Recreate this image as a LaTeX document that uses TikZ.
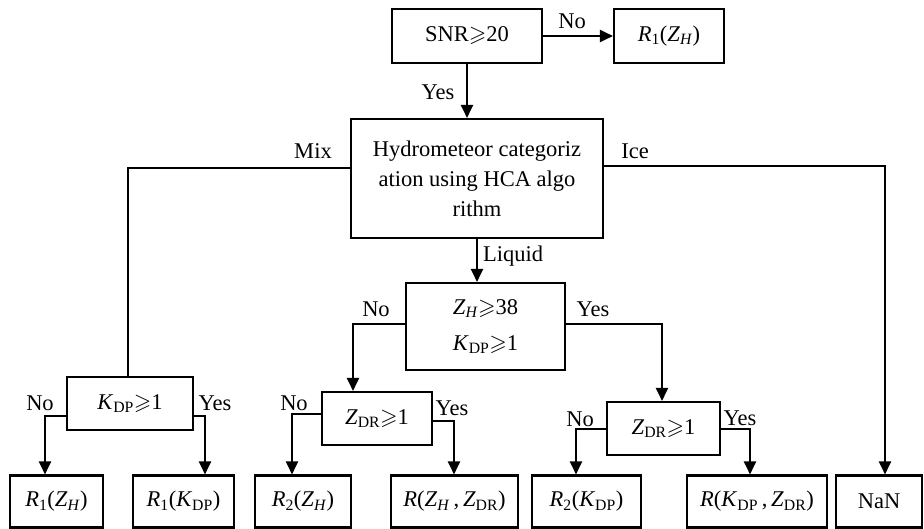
\documentclass[tikz,border=0pt]{standalone}
\usepackage{amssymb}
\usepackage{fontspec}
\setmainfont{Liberation Serif}
\usetikzlibrary{arrows.meta,calc}
\newcommand{\mygeq}{\ensuremath{\geqslant}}
\newcommand{\ZH}{\textit{Z}\textsubscript{\textit{H}}}
\newcommand{\KDP}{\textit{K}\textsubscript{DP}}
\newcommand{\ZDR}{\textit{Z}\textsubscript{DR}}
\newcommand{\Ri}{\textit{R}\textsubscript{1}}
\newcommand{\Rii}{\textit{R}\textsubscript{2}}
\begin{document}
\begin{tikzpicture}[x=1pt,y=-1pt,
  every node/.style={font=\fontsize{22.5}{30}\selectfont},
  box/.style={draw,line width=2.1pt,inner sep=0pt,align=center},
  conn/.style={line width=2.1pt},
  arr/.style={conn,-{Triangle[length=13pt,width=12pt]}},
  lbl/.style={inner sep=0pt}]
\useasboundingbox (0,0) rectangle (924,528);
% boxes
\node[box,minimum width=150pt,minimum height=54pt] (snr) at (467,36) {SNR\mygeq20};
\node[box,minimum width=110pt,minimum height=54pt] (rtop) at (669,36) {\Ri(\ZH)};
\node[box,minimum width=252pt,minimum height=119pt] (hca) at (477,178.5)
  {Hydrometeor categoriz\\ation using HCA algo\\rithm};
\node[box,minimum width=159pt,minimum height=87pt,font=\fontsize{22.5}{36}\selectfont] (zh) at (485.5,326.5)
  {\ZH\mygeq38\\\KDP\mygeq1};
\node[box,minimum width=126pt,minimum height=53pt] (kdp) at (130,403.5) {\KDP\mygeq1};
\node[box,minimum width=110pt,minimum height=53pt] (zdra) at (377,418.5) {\ZDR\mygeq1};
\node[box,minimum width=113pt,minimum height=53pt] (zdrb) at (663.5,428.5) {\ZDR\mygeq1};
\node[box,minimum width=93pt,minimum height=52pt] (b1) at (56.5,501.5) {\Ri(\ZH)};
\node[box,minimum width=101pt,minimum height=52pt] (b2) at (183.5,501.5) {\Ri(\KDP)};
\node[box,minimum width=96pt,minimum height=52pt] (b3) at (303,501.5) {\Rii(\ZH)};
\node[box,minimum width=127pt,minimum height=52pt] (b4) at (454.5,501.5) {\textit{R}(\ZH\,,\,\ZDR)};
\node[box,minimum width=109pt,minimum height=52pt] (b5) at (586.5,501.5) {\Rii(\KDP)};
\node[box,minimum width=140pt,minimum height=52pt] (b6) at (757,501.5) {\textit{R}(\KDP\,,\,\ZDR)};
\node[box,minimum width=86pt,minimum height=52pt] (b7) at (879,501.5) {NaN};
% corner coordinates
\coordinate (mixc) at (128,168);
\coordinate (icec) at (885,166);
\coordinate (zhno) at (353,324);
\coordinate (zhyes) at (662,324);
\coordinate (kno) at (45,416);
\coordinate (kyes) at (205,416);
\coordinate (aNo) at (292,414);
\coordinate (aYes) at (454,421);
\coordinate (bNo) at (576,429);
\coordinate (bYes) at (750,429);
% connectors
\draw[arr] (snr.east) -- (rtop.west);
\draw[arr] (snr.south) -- (snr.south |- hca.north);
\draw[conn] (hca.west |- mixc) -- (mixc) -- (kdp.north -| mixc);
\draw[arr] (hca.east |- icec) -- (icec) -- (b7.north -| icec);
\draw[arr] (hca.south) -- (hca.south |- zh.north);
\draw[arr] (zh.west |- zhno) -- (zhno) -- (zdra.north -| zhno);
\draw[arr] (zh.east |- zhyes) -- (zhyes) -- (zdrb.north -| zhyes);
\draw[arr] (kdp.west |- kno) -- (kno) -- (b1.north -| kno);
\draw[arr] (kdp.east |- kyes) -- (kyes) -- (b2.north -| kyes);
\draw[arr] (zdra.west |- aNo) -- (aNo) -- (b3.north -| aNo);
\draw[arr] (zdra.east |- aYes) -- (aYes) -- (b4.north -| aYes);
\draw[arr] (zdrb.west |- bNo) -- (bNo) -- (b5.north -| bNo);
\draw[arr] (zdrb.east |- bYes) -- (bYes) -- (b6.north -| bYes);
% labels
\node[lbl] (l1) at (572,21) {No};
\node[lbl] (l2) at (438,92) {Yes};
\node[lbl] (l3) at (313,151) {Mix};
\node[lbl] (l4) at (635,151) {Ice};
\node[lbl] (l5) at (513,256) {Liquid};
\node[lbl] (l6) at (376,309) {No};
\node[lbl] (l7) at (593,309) {Yes};
\node[lbl] (l8) at (40,403) {No};
\node[lbl] (l9) at (215,403) {Yes};
\node[lbl] (l10) at (294,403) {No};
\node[lbl] (l11) at (452,408) {Yes};
\node[lbl] (l12) at (580,419) {No};
\node[lbl] (l13) at (740,418) {Yes};
\end{tikzpicture}
\end{document}
